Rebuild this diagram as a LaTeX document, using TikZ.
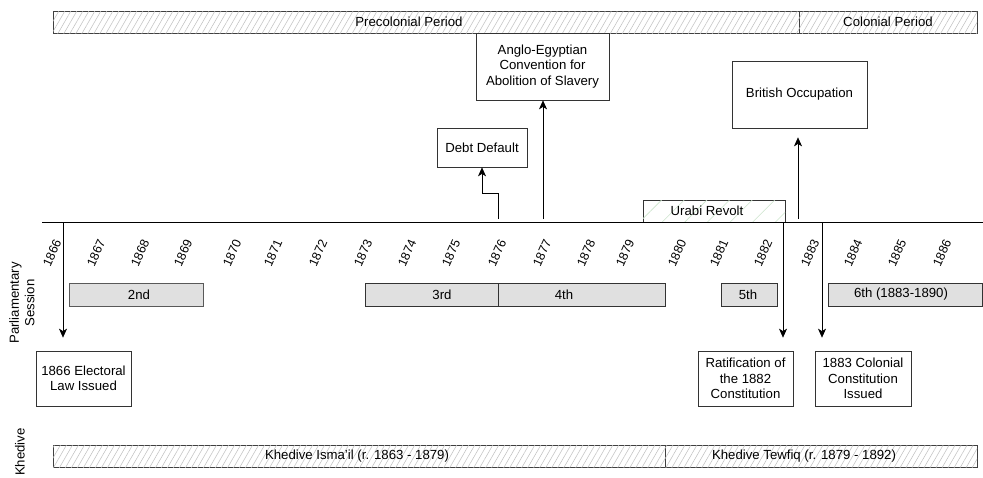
\documentclass[tikz,border=0pt]{standalone}
\usepackage{fontspec}
\setmainfont{Liberation Sans}
\usetikzlibrary{arrows.meta,patterns.meta}
\begin{document}
\begin{tikzpicture}[x=1pt,y=-1pt,
  font=\fontsize{13.2}{15.5}\selectfont,
  hatch/.style={draw=black!75, line width=0.7pt, fill=white,
    postaction={pattern={Lines[angle=60,distance=5.2pt,line width=0.5pt]}, pattern color=black!25}},
  greenhatch/.style={draw=black!80, line width=0.7pt, fill=white,
    postaction={pattern={Lines[angle=45,distance=16pt,line width=0.6pt]}, pattern color=green!50!black!20}},
  box/.style={draw=black!80, line width=0.7pt, fill=white, align=center, inner sep=2pt},
  sess/.style={draw=black!65, line width=0.7pt, fill=black!12},
  yearlbl/.style={rotate=66, font=\fontsize{12.5}{14}\selectfont, inner sep=0.5pt},
  arr/.style={draw=black, line width=0.7pt, -{Stealth[length=9pt,width=8pt,inset=2.5pt]}},
  plain/.style={draw=black, line width=0.7pt}
]
\useasboundingbox (0,0) rectangle (983,477);

% period bands
\draw[hatch] (53,11) rectangle (799,33);
\draw[hatch] (799,11) rectangle (977,33);
\node (pre) at (409,22) {Precolonial Period};
\node (col) at (888,22) {Colonial Period};

% event boxes
\node[box, minimum width=133, minimum height=67] (anglo) at (542.5,66.5)
  {Anglo-Egyptian\\Convention for\\Abolition of Slavery};
\node[box, minimum width=135, minimum height=67] (brit) at (799.5,94.5) {British Occupation};
\node[box, minimum width=90, minimum height=39] (debt) at (482,147.5) {Debt Default};
\node[greenhatch, minimum width=142, minimum height=22, inner sep=0] (urabi) at (714,211) {};
\node (urabitxt) at (707,211) {Urabi Revolt};

% timeline
\coordinate (tl0) at (42,222);
\coordinate (tl1) at (983,222);
\draw[plain] (tl0) -- (tl1);

% years
\foreach \yr/\xx in {1866/52,1867/96,1868/140,1869/183,1870/232,1871/273,1872/318,
  1873/363,1874/407,1875/451,1876/497,1877/542,1878/586,1879/625,1880/677,
  1881/719,1882/763,1883/810,1884/853,1885/897,1886/942}
  \node[yearlbl] (y\yr) at (\xx,253) {\yr};

% parliamentary sessions
\draw[sess] (69,283) rectangle (203,306);
\node (s2) at (139,294.5) {2nd};
\draw[sess, draw=black!80] (365,283) rectangle (498,306);
\node (s3) at (442,294.5) {3rd};
\draw[sess, draw=black!80] (498,283) rectangle (665,306);
\node (s4) at (564,294.5) {4th};
\draw[sess, draw=black!80] (721,283) rectangle (777,306);
\node (s5) at (748,294.5) {5th};
\draw[sess, draw=black!80] (828,283) rectangle (982,306);
\node (s6) at (901,294.5) {6th (1883-1890)};

% lower boxes
\node[box, minimum width=95, minimum height=55] (elect) at (83.5,378.5) {1866 Electoral\\Law Issued};
\node[box, minimum width=95, minimum height=55] (ratif) at (745.5,378.5) {Ratification of\\the 1882\\Constitution};
\node[box, minimum width=96, minimum height=55] (colon) at (863,378.5) {1883 Colonial\\Constitution\\Issued};

% khedive bars
\draw[hatch] (53,445) rectangle (665,467);
\draw[hatch] (665,445) rectangle (977,467);
\node (ism) at (357,456) {Khedive Isma'il (r. 1863 - 1879)};
\node (tew) at (804,456) {Khedive Tewfiq (r. 1879 - 1892)};

% side labels
\node[rotate=90, align=center, inner sep=0] (parl) at (22,303) {Parliamentary\\Session};
\node[rotate=90, inner sep=0] (khed) at (20,452) {Khedive};

% connectors
\coordinate (e0) at (63,222);
\draw[arr, shorten >=13pt] (e0) -- (elect.north -| e0);
\coordinate (d0) at (498,219);
\coordinate (d1) at (498,193);
\draw[arr] (d0) -- (d1) -| (debt.south);
\coordinate (a0) at (543,219);
\draw[arr] (a0) -- (anglo.south -| a0);
\coordinate (b0) at (798,219);
\draw[arr, shorten >=9pt] (b0) -- (brit.south -| b0);
\coordinate (u0) at (783,222);
\draw[arr, shorten >=13pt] (u0) -- (ratif.north -| u0);
\coordinate (c0) at (822,222);
\draw[arr, shorten >=13pt] (c0) -- (colon.north -| c0);
\end{tikzpicture}
\end{document}
